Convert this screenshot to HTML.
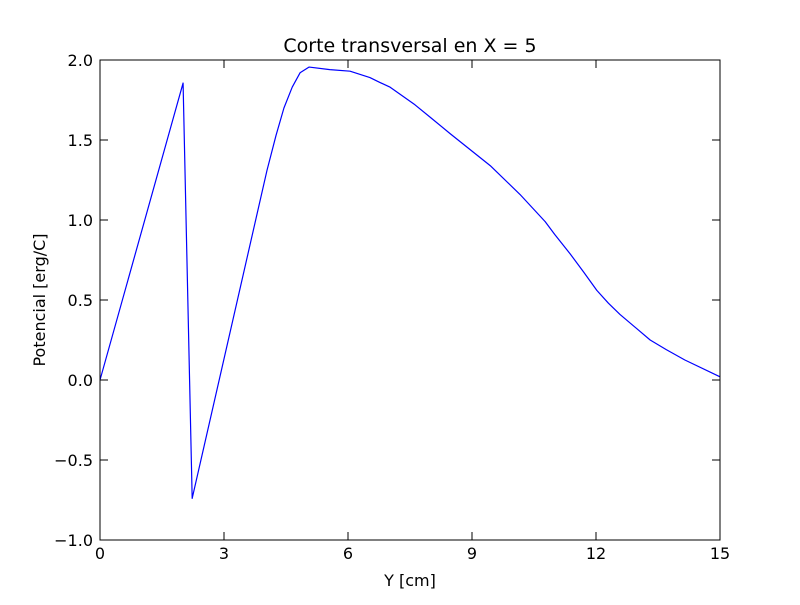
<!DOCTYPE html>
<html><head><meta charset="utf-8"><style>
body{margin:0;background:#fff;font-family:"Liberation Sans","DejaVu Sans",sans-serif}
</style></head><body>
<svg width="800" height="600" xmlns="http://www.w3.org/2000/svg">
<rect width="800" height="600" fill="#fff"/>
<text x="410" y="52" text-anchor="middle" font-size="19" font-family="DejaVu Sans, sans-serif">Corte transversal en X = 5</text>
<g id="ticks"></g>
<polyline id="line" fill="none" stroke="#0000ff" stroke-width="1.2" stroke-linejoin="round"/>
<rect x="100" y="60" width="620" height="480" fill="none" stroke="#000" stroke-width="1"/>
<text x="410" y="586" text-anchor="middle" font-size="16" font-family="DejaVu Sans, sans-serif">Y [cm]</text>
<text transform="translate(45,300) rotate(-90)" text-anchor="middle" font-size="16" font-family="DejaVu Sans, sans-serif">Potencial [erg/C]</text>
</svg>
<script>
const xs=[0,2.01,2.23,4.04,4.26,4.45,4.65,4.84,5.06,5.56,6.05,6.53,6.77,7.02,7.62,8.0,8.47,9.44,10.16,10.77,11.0,11.37,11.7,12.02,12.3,12.58,13.31,13.7,14.15,15];
const ys=[0,1.856,-0.74,1.31,1.53,1.70,1.83,1.92,1.956,1.94,1.93,1.89,1.86,1.83,1.72,1.64,1.54,1.34,1.16,0.99,0.91,0.79,0.675,0.56,0.48,0.41,0.25,0.19,0.125,0.02];
const xTicks=[0,3,6,9,12,15];
const yTicks=[-1.0,-0.5,0.0,0.5,1.0,1.5,2.0];
const X=v=>100+v/15*620, Y=v=>540-(v+1)/3*480;
const NS="http://www.w3.org/2000/svg";
document.getElementById('line').setAttribute('points',xs.map((x,i)=>X(x)+','+Y(ys[i])).join(' '));
const g=document.getElementById('ticks');
function mk(t,a){const e=document.createElementNS(NS,t);for(const k in a)e.setAttribute(k,a[k]);g.appendChild(e);return e;}
xTicks.forEach(v=>{const x=X(v);
mk('line',{x1:x,x2:x,y1:540,y2:532,stroke:'#000'});mk('line',{x1:x,x2:x,y1:60,y2:68,stroke:'#000'});
const t=mk('text',{x:x,y:559,'text-anchor':'middle','font-size':16,'font-family':'DejaVu Sans, sans-serif'});t.textContent=v;

});
yTicks.forEach(v=>{const y=Y(v);
mk('line',{x1:100,x2:108,y1:y,y2:y,stroke:'#000'});mk('line',{x1:720,x2:712,y1:y,y2:y,stroke:'#000'});
const t=mk('text',{x:93,y:y+6,'text-anchor':'end','font-size':16,'font-family':'DejaVu Sans, sans-serif'});t.textContent=(v<0?'\u2212':'')+Math.abs(v).toFixed(1);

});
</script>
</body></html>
